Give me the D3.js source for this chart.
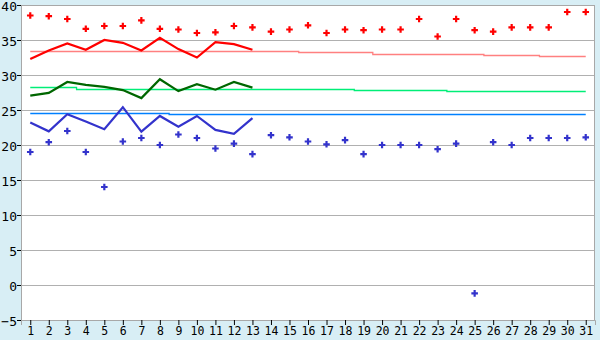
<!DOCTYPE html>
<html>
<head>
<meta charset="utf-8">
<script src="https://cdn.jsdelivr.net/npm/d3@7"></script>
<style>
  body { margin: 0; background: #d8eef5; }
  svg { display: block; }
  .tick text { font-family: "DejaVu Sans Mono", monospace; fill: #000; }
</style>
</head>
<body>
<div id="chart"></div>
<script>
// jours du mois
const days = d3.range(1, 32);

// records (points)
const recordMax = [38.5, 38.4, 38.0, 36.6, 37.0, 37.0, 37.8, 36.6, 36.5, 36.0, 36.1, 37.0, 36.8, 36.2, 36.5, 37.1,
  36.0, 36.5, 36.4, 36.5, 36.5, 38.0, 35.5, 38.0, 36.4, 36.2, 36.8, 36.8, 36.8, 39.0, 39.0];
const recordMin = [19.0, 20.4, 22.0, 19.0, 14.0, 20.5, 21.0, 20.0, 21.5, 21.0, 19.5, 20.2, 18.7, 21.4, 21.1, 20.5,
  20.1, 20.7, 18.7, 20.0, 20.0, 20.0, 19.4, 20.2, -1.2, 20.4, 20.0, 21.0, 21.0, 21.0, 21.1];

// valeurs du mois en cours (jours 1 à 13)
const tMax = [32.3, 33.5, 34.5, 33.6, 35.0, 34.6, 33.5, 35.3, 33.7, 32.5, 34.7, 34.4, 33.6];
const tMean = [27.05, 27.45, 29.0, 28.6, 28.3, 27.85, 26.7, 29.4, 27.7, 28.7, 27.9, 29.0, 28.2];
const tMin = [23.2, 21.95, 24.4, 23.35, 22.25, 25.4, 21.9, 24.15, 22.6, 24.15, 22.15, 21.6, 23.85];

// moyennes normales
const avgMax = [33.4, 33.4, 33.4, 33.4, 33.4, 33.4, 33.4, 33.4, 33.4, 33.4, 33.4, 33.4, 33.4, 33.4, 33.4, 33.25,
  33.25, 33.25, 33.25, 32.97, 32.97, 32.97, 32.97, 32.97, 32.97, 32.82, 32.82, 32.82, 32.68, 32.68, 32.68];
const avgMean = [28.25, 28.25, 28.25, 28.05, 28.05, 28.05, 28.05, 28.05, 28.05, 28.05, 28.05, 28.05, 28.05, 28.05, 28.05, 28.05,
  28.05, 28.05, 27.85, 27.85, 27.85, 27.85, 27.85, 27.68, 27.68, 27.68, 27.68, 27.68, 27.68, 27.68, 27.68];
const avgMin = [24.52, 24.52, 24.52, 24.52, 24.52, 24.52, 24.52, 24.52, 24.38, 24.38, 24.38, 24.38, 24.38, 24.38, 24.38, 24.38,
  24.38, 24.38, 24.38, 24.38, 24.38, 24.38, 24.38, 24.38, 24.38, 24.38, 24.38, 24.38, 24.38, 24.38, 24.38];

const yTicks = d3.range(-5, 41, 5);

const W = 600, H = 340;
const margin = { top: 5, right: 5, bottom: 20, left: 21 };
const width = W - margin.left - margin.right,
    height = H - margin.top - margin.bottom;

const svg = d3.select("#chart").append("svg")
    .attr("width", W)
    .attr("height", H)
    .append("g")
    .attr("transform", `translate(${margin.left},${margin.top})`);

const x = d3.scaleLinear().domain([0.5, 31.5]).range([0, width]);
const y = d3.scaleLinear().domain([-5, 40]).range([height, 0]);

// zone du graphique
svg.append("rect")
    .attr("width", width)
    .attr("height", height)
    .attr("fill", "#fff");

// grille
svg.append("g")
    .selectAll("line")
    .data(yTicks)
    .enter().append("line")
    .attr("x1", 0)
    .attr("x2", width)
    .attr("y1", d => Math.round(y(d)) + 0.5)
    .attr("y2", d => Math.round(y(d)) + 0.5)
    .attr("stroke", "#b0b0b0")
    .attr("stroke-width", 1);

// bordure
svg.append("rect")
    .attr("x", 0.5)
    .attr("y", 0.5)
    .attr("width", width - 1)
    .attr("height", height)
    .attr("fill", "none")
    .attr("stroke", "#a8a8a8")
    .attr("stroke-width", 1);

// axes
const yAxis = svg.append("g")
    .call(d3.axisLeft(y).tickValues(yTicks).tickSize(4).tickFormat(d => d < 0 ? "\u22125" : d));
yAxis.select(".domain").attr("stroke", "#a8a8a8");
yAxis.selectAll(".tick text")
    .style("font-size", "13px")
    .attr("x", -4)
    .attr("dy", "0.45em");

const xAxis = svg.append("g")
    .attr("transform", `translate(0,${height})`)
    .call(d3.axisBottom(x).tickValues(days).tickSize(5).tickFormat(d3.format("d")));
xAxis.select(".domain").attr("stroke", "#a8a8a8");
xAxis.selectAll(".tick text").style("font-size", "11.5px").attr("y", 7);

// moyennes normales
const stepLine = vals => d3.line()
    .curve(d3.curveStep)
    .x((d, i) => x(days[i]))
    .y(d => Math.round(y(d)) + 0.5)(vals);

[[avgMax, "#ff8080"], [avgMean, "#00ee77"], [avgMin, "#0080ff"]].forEach(([vals, col]) => {
    svg.append("path")
        .attr("d", stepLine(vals))
        .attr("fill", "none")
        .attr("stroke", col)
        .attr("stroke-width", 1.3);
});

// courbes du mois
const line = d3.line()
    .x((d, i) => x(days[i]))
    .y(d => y(d));

[[tMax, "#ff0000"], [tMean, "#006600"], [tMin, "#3333cc"]].forEach(([vals, col]) => {
    svg.append("path")
        .attr("d", line(vals))
        .attr("fill", "none")
        .attr("stroke", col)
        .attr("stroke-width", 2.2);
});

// records
const sym = d3.symbol().type(d3.symbolCross).size(24);
[[recordMax, "#ff0000"], [recordMin, "#3333cc"]].forEach(([vals, col]) => {
    svg.append("g")
        .selectAll("path")
        .data(vals)
        .enter().append("path")
        .attr("d", sym)
        .attr("transform", (d, i) => `translate(${x(days[i])},${y(d)})`)
        .attr("fill", col);
});
</script>
</body>
</html>
